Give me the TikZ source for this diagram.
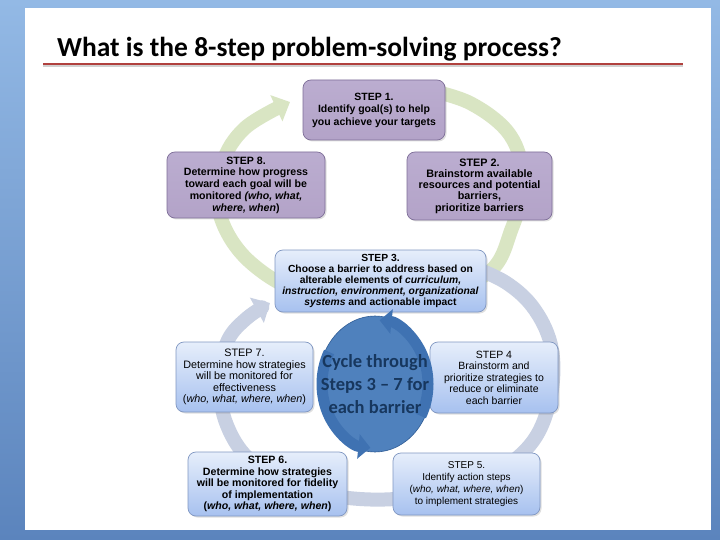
\documentclass[tikz,border=0pt]{standalone}
\usepackage{fontspec}
\setmainfont{Liberation Sans}
\newfontfamily\calib{Carlito}
\usetikzlibrary{arrows.meta,shadows}
\definecolor{bgtop}{HTML}{93B9E5}
\definecolor{bgbot}{HTML}{5B84BD}
\definecolor{titlered}{HTML}{B0413E}
\definecolor{arcgreen}{HTML}{D9E5C3}
\definecolor{arcgrey}{HTML}{C8D0E2}
\definecolor{purpfill}{HTML}{B3A3C8}
\definecolor{purptop}{HTML}{BBADD0}
\definecolor{purpline}{HTML}{7E6E98}
\definecolor{bluetop}{HTML}{E6EEFB}
\definecolor{bluebot}{HTML}{A7C1EF}
\definecolor{blueline}{HTML}{8097C2}
\definecolor{cycfill}{HTML}{4F81BD}
\definecolor{cycarrow}{HTML}{3F72B2}
\definecolor{cycline}{HTML}{2F5C95}
\definecolor{navy}{HTML}{17375E}
\tikzset{
  boxbase/.style={rounded corners=8pt, align=center, inner sep=2pt, text=black,
    drop shadow={opacity=0.25, shadow xshift=1.5pt, shadow yshift=-1.5pt}},
  purplebox/.style={boxbase, draw=purpline, line width=0.7pt,
    top color=purptop, bottom color=purpfill},
  bluebox/.style={boxbase, draw=blueline, line width=0.7pt,
    top color=bluetop, bottom color=bluebot},
  bigarc/.style={line width=14pt, line join=round},
}
\begin{document}
\begin{tikzpicture}[x=1pt,y=-1pt]
\useasboundingbox (0,0) rectangle (720,540);
\shade[top color=bgtop, bottom color=bgbot] (0,0) rectangle (720,540);
\fill[white] (25,8) rectangle (711,530);

% title
\node[anchor=base west, inner sep=0pt, font=\calib\bfseries\fontsize{27.5}{32}\selectfont] (title) at (57,57) {What is the 8-step problem-solving process?};
\coordinate (ulA) at (43,64);
\coordinate (ulB) at (683,64);
\draw[line width=2.5pt, black!18] ([yshift=-2pt]ulA) -- ([yshift=-2pt]ulB);
\draw[line width=2pt, titlered] (ulA) -- (ulB);

% upper green cycle
\draw[bigarc, arcgreen, -{Triangle[width=28pt,length=15pt]}]
  plot[smooth, tension=0.6] coordinates {(420,88) (470,103) (510,135) (523,180) (512,228) (485,275) (400,300) (310,295) (250,262) (220,215) (222,165) (245,128) (290,102)};

% lower grey cycle
\draw[bigarc, arcgrey, -{Triangle[width=28pt,length=15pt]}]
  plot[smooth, tension=0.6] coordinates {(460,262) (505,282) (535,310) (552,350) (550,400) (530,445) (485,478) (420,496) (360,499) (300,488) (250,460) (225,420) (220,375) (228,340) (247,318) (270,303)};

% step boxes
\node[purplebox, minimum width=142pt, minimum height=60pt,
  font=\bfseries\fontsize{10.5}{12.5}\selectfont] (s1) at (374,110)
  {STEP 1.\\Identify goal(s) to help\\you achieve your targets};
\node[purplebox, minimum width=145pt, minimum height=68pt,
  font=\bfseries\fontsize{10.8}{11.3}\selectfont] (s2) at (479.5,186)
  {STEP 2.\\Brainstorm available\\resources and potential\\barriers,\\prioritize barriers};
\node[purplebox, minimum width=158pt, minimum height=66pt,
  font=\bfseries\fontsize{10.6}{11.8}\selectfont] (s8) at (246,185)
  {STEP 8.\\Determine how progress\\toward each goal will be\\monitored \textit{(who, what,}\\\textit{where, when})};
\node[bluebox, minimum width=211pt, minimum height=62pt,
  font=\bfseries\fontsize{10.3}{11}\selectfont] (s3) at (380.5,281)
  {STEP 3.\\Choose a barrier to address based on\\alterable elements of \textit{curriculum,}\\\textit{instruction, environment, organizational}\\\textit{systems} and actionable impact};
\node[bluebox, minimum width=137pt, minimum height=70pt,
  font=\fontsize{10.8}{11.5}\selectfont] (s7) at (244.5,377)
  {STEP 7.\\Determine how strategies\\will be monitored for\\effectiveness\\(\textit{who, what, where, when})};
\node[bluebox, minimum width=128pt, minimum height=71pt,
  font=\fontsize{10.5}{11.5}\selectfont] (s4) at (494,377.5)
  {STEP 4\\Brainstorm and\\prioritize strategies to\\reduce or eliminate\\each barrier};
\node[bluebox, minimum width=159pt, minimum height=64pt,
  font=\bfseries\fontsize{10.6}{11.5}\selectfont] (s6) at (267.5,484)
  {STEP 6.\\Determine how strategies\\will be monitored for fidelity\\of implementation\\(\textit{who, what, where, when})};
\node[bluebox, minimum width=147pt, minimum height=62pt,
  font=\fontsize{10}{12}\selectfont] (s5) at (466.5,484)
  {STEP 5.\\Identify action steps\\(\textit{who, what, where, when})\\to implement strategies};

% centre cycle
\coordinate (cc) at (375,384);
\fill[cycfill] (cc) ellipse [x radius=57pt, y radius=68pt];
\draw[cycline, line width=0.6pt] (cc) ellipse [x radius=57pt, y radius=68pt];
\draw[cycarrow, line width=11pt, -{Triangle[width=24pt,length=12pt]}]
  ([shift={(150:53pt and 64pt)}]cc) arc[start angle=150, end angle=265, x radius=53pt, y radius=64pt];
\draw[cycarrow, line width=11pt, -{Triangle[width=24pt,length=12pt]}]
  ([shift={(330:53pt and 64pt)}]cc) arc[start angle=330, end angle=445, x radius=53pt, y radius=64pt];
\node[font=\calib\bfseries\fontsize{18.5}{23}\selectfont, text=navy, align=center] (cyc) at (cc)
  {Cycle through\\Steps 3 – 7 for\\each barrier};
\end{tikzpicture}
\end{document}
